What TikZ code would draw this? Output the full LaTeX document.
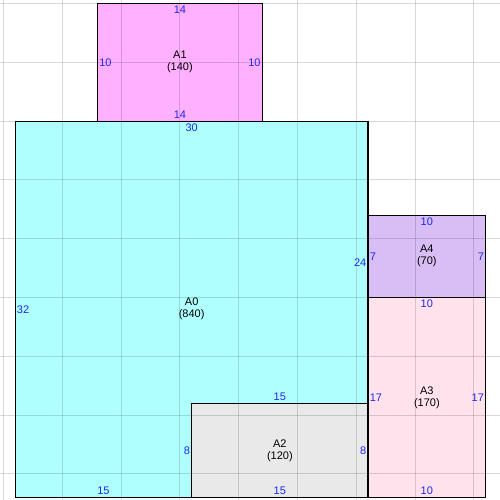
\documentclass[tikz,border=0pt]{standalone}
\usepackage{fontspec}
\setmainfont{Liberation Sans}
\definecolor{cA0}{RGB}{176,255,255}
\definecolor{cA1}{RGB}{255,176,255}
\definecolor{cA2}{RGB}{233,233,233}
\definecolor{cA3}{RGB}{255,226,236}
\definecolor{cA4}{RGB}{216,190,245}
\definecolor{dimblue}{RGB}{30,40,235}
\tikzset{
  gridline/.style={draw=black,opacity=0.15,line width=1.1pt},
  areabox/.style={draw=black,line width=1.2pt},
  namelbl/.style={align=center,inner sep=0pt,font=\fontsize{11}{12}\selectfont,text=black},
  dimlbl/.style={text=dimblue,font=\fontsize{11}{12}\selectfont},
  dtop/.style={dimlbl,anchor=north,inner sep=2.5pt},
  dbot/.style={dimlbl,anchor=south,inner sep=2.5pt},
  dleft/.style={dimlbl,anchor=west,inner sep=1.5pt},
  dright/.style={dimlbl,anchor=east,inner sep=1.5pt}
}
\begin{document}
\begin{tikzpicture}[x=11.76pt,y=-11.76pt]
\useasboundingbox[fill=white] (-0.2976,-0.2976) rectangle (42.2194,42.2194);
% fills
\fill[cA1] (8,0) rectangle (22,10);
\fill[cA0] (1,10) rectangle (31,42);
\fill[cA2] (16,34) rectangle (31,42);
\fill[cA4] (31,18) rectangle (41,25);
\fill[cA3] (31,25) rectangle (41,42);
% grid
\foreach \i in {0,5,...,40}{
  \draw[gridline] (\i,-0.3) -- (\i,42.3);
  \draw[gridline] (-0.3,\i) -- (42.3,\i);
}
% borders
\draw[areabox] (8,0) rectangle (22,10);
\draw[areabox] (1,10) rectangle (31,42);
\draw[areabox] (16,34) rectangle (31,42);
\draw[areabox] (31,18) rectangle (41,25);
\draw[areabox] (31,25) rectangle (41,42);
% names
\node[namelbl] (nA1) at (15,5) {A1\\(140)};
\node[namelbl] (nA0) at (16,26) {A0\\(840)};
\node[namelbl] (nA2) at (23.5,38) {A2\\(120)};
\node[namelbl] (nA4) at (36,21.5) {A4\\(70)};
\node[namelbl] (nA3) at (36,33.5) {A3\\(170)};
% A1 dims
\node[dtop] (a1t) at (15,0) {14};
\node[dbot] (a1b) at (15,10) {14};
\node[dleft] (a1l) at (8,5) {10};
\node[dright] (a1r) at (22,5) {10};
% A0 dims
\node[dtop] (a0t) at (16,10) {30};
\node[dleft] (a0l) at (1,26) {32};
\node[dright] (a0r) at (31,22) {24};
\node[dbot] (a0i) at (23.5,34) {15};
\node[dright] (a0v) at (16,38) {8};
\node[dbot] (a0b) at (8.5,42) {15};
% A2 dims
\node[dbot] (a2b) at (23.5,42) {15};
\node[dright] (a2r) at (31,38) {8};
% A4 dims
\node[dtop] (a4t) at (36,18) {10};
\node[dleft] (a4l) at (31,21.5) {7};
\node[dright] (a4r) at (41,21.5) {7};
% A3 dims
\node[dtop] (a3t) at (36,25) {10};
\node[dleft] (a3l) at (31,33.5) {17};
\node[dright] (a3r) at (41,33.5) {17};
\node[dbot] (a3b) at (36,42) {10};
\end{tikzpicture}
\end{document}
